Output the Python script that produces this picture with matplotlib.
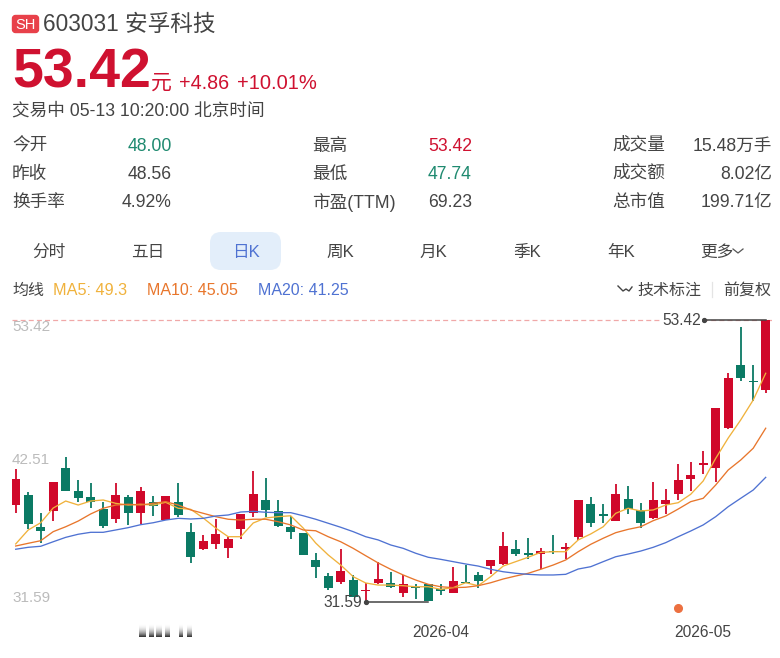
import numpy as np
import matplotlib
matplotlib.use('Agg')
import matplotlib.pyplot as plt
from matplotlib.patches import FancyBboxPatch

plt.rcParams['font.family'] = ['Liberation Sans', 'Noto Sans CJK SC', 'DejaVu Sans']

opens = [39.11,39.89,37.43,38.65,41.95,40.22,39.71,38.80,38.01,39.73,38.47,39.37,37.95,39.37,37.02,
         35.73,36.07,35.76,37.23,38.47,39.52,38.62,37.43,36.97,34.86,33.62,33.18,33.29,32.44,33.06,
         33.06,32.33,32.79,33.00,32.64,32.28,33.16,33.72,34.39,34.57,35.73,35.38,35.32,35.55,35.69,
         36.64,39.19,38.39,37.87,39.55,38.73,38.08,39.21,39.96,41.12,42.18,42.00,45.07,49.96,48.70,48.00]
closes = [41.10,37.64,37.12,40.87,40.22,39.65,39.32,37.51,39.91,38.47,40.17,39.06,39.81,38.34,35.09,
          36.33,36.89,36.46,38.42,39.94,38.73,37.49,37.00,35.22,34.32,32.69,34.03,31.97,32.56,33.37,
          32.75,33.00,32.67,31.71,32.48,33.26,33.06,33.23,34.86,35.92,35.30,35.27,35.55,35.48,35.89,
          39.50,37.74,38.28,39.96,38.78,37.70,39.48,39.48,41.05,41.46,42.38,46.61,48.93,48.91,48.60,53.42]
highs = [41.87,40.14,38.47,40.87,42.80,41.05,40.84,39.32,40.79,39.89,40.48,39.81,39.81,40.84,37.70,
         36.79,38.03,36.66,38.42,41.74,41.18,39.50,38.26,36.97,35.38,33.83,35.69,33.70,33.10,34.73,
         33.91,33.70,33.00,33.00,33.00,34.34,34.47,33.91,34.86,37.05,36.41,36.58,35.81,36.79,36.15,
         39.50,39.75,39.17,40.74,40.58,39.29,40.91,40.33,42.26,42.46,43.31,46.61,49.34,52.90,49.92,53.42]
lows = [38.47,37.23,36.20,37.87,40.22,39.34,38.90,37.33,37.74,37.57,37.64,38.26,37.95,38.16,34.65,
        35.63,35.69,34.99,36.46,38.21,38.21,37.43,36.46,35.22,33.49,32.54,33.00,31.97,31.59,33.00,
        32.67,32.02,31.82,31.71,32.15,32.28,33.06,32.67,33.78,34.47,35.19,34.96,34.14,35.32,34.94,
        36.43,37.43,37.70,37.87,38.42,37.31,38.01,38.42,39.50,40.20,41.49,40.91,44.99,48.73,47.18,47.74]
ma5 = [36.10,37.18,37.74,38.88,39.42,39.11,39.42,39.50,39.24,39.11,39.17,39.11,39.32,38.86,38.78,
       38.11,37.33,36.66,36.66,37.72,38.11,38.21,38.28,37.33,36.17,35.25,34.47,33.57,33.08,32.92,
       32.92,32.87,32.79,32.79,32.59,32.72,33.10,32.87,33.57,34.39,34.73,35.07,35.45,35.50,35.50,
       36.41,36.87,37.43,38.47,38.86,38.65,38.73,39.11,39.29,39.94,40.97,42.72,44.29,45.69,47.23,49.30]
ma10 = [35.94,36.15,36.35,37.05,37.43,37.87,38.42,38.86,39.11,39.17,39.11,39.24,39.37,39.11,38.73,
        38.47,38.21,38.01,37.95,38.01,38.01,37.82,37.57,37.18,37.12,36.66,36.27,35.76,35.19,34.63,
        34.14,33.70,33.31,32.98,32.79,32.72,32.75,32.87,33.10,33.39,33.62,33.83,34.14,34.47,34.86,
        35.50,36.07,36.54,36.97,37.23,37.43,37.90,38.26,38.80,39.37,39.63,40.66,41.82,42.59,43.50,45.05]
ma20 = [35.69,35.84,35.92,36.27,36.61,36.85,37.00,37.00,37.18,37.36,37.59,37.74,37.95,38.08,38.03,
        38.08,38.26,38.34,38.57,38.62,38.55,38.52,38.52,38.28,38.01,37.70,37.39,37.05,36.66,36.41,
        36.02,35.76,35.38,35.07,34.91,34.73,34.55,34.39,34.14,33.95,33.83,33.75,33.70,33.70,33.75,
        34.16,34.34,34.73,35.11,35.32,35.55,35.84,36.20,36.66,37.10,37.57,38.21,38.98,39.63,40.27,41.25]

stats_left = [('今开', '48.00', '#1f8a70'), ('昨收', '48.56', '#444444'), ('换手率', '4.92%', '#444444')]
stats_mid = [('最高', '53.42', '#cf1130'), ('最低', '47.74', '#1f8a70'), ('市盈(TTM)', '69.23', '#444444')]
stats_right = [('成交量', '15.48万手', '#444444'), ('成交额', '8.02亿', '#444444'), ('总市值', '199.71亿', '#444444')]
tabs = ['分时', '五日', '日K', '周K', '月K', '季K', '年K', '更多']
tab_x = [49, 148, 246, 340, 433, 527, 621, 717]

RED = '#d0082a'
GREEN = '#0b7a64'
C5 = '#f0b23c'
C10 = '#e8762c'
C20 = '#4f72d2'

fig = plt.figure(figsize=(7.8, 6.58), dpi=100, facecolor='white')

# chart area, pixel box x 12..772, y 315..610
ax = fig.add_axes([12/780, 1-610/658, 760/780, 295/658])
ax.axis('off')
idx = np.arange(len(opens))
o = np.array(opens)
c = np.array(closes)
cols = [RED if c[i] >= o[i] else GREEN for i in idx]
ax.vlines(idx, lows, highs, colors=cols, lw=1.3, zorder=2)
ax.bar(idx, np.maximum(np.abs(c-o), 0.1), bottom=np.minimum(o, c), width=0.7, color=cols, zorder=3)
ax.plot(idx, ma5, color=C5, lw=0.95, zorder=4)
ax.plot(idx, ma10, color=C10, lw=0.95, zorder=4)
ax.plot(idx, ma20, color=C20, lw=0.95, zorder=4)
ax.axhline(53.42, color='#f0a8a8', lw=0.9, ls=(0, (4, 2.5)), zorder=1)
# max / min markers
ax.plot([55.1, 60], [53.42, 53.42], color='#444444', lw=1.1, zorder=5)
ax.plot([55.1], [53.42], 'o', color='#444444', ms=2.8, zorder=5)
ax.text(54.8, 53.35, '53.42', ha='right', va='center', fontsize=11.2, color='#444444', zorder=6,
        bbox=dict(fc='white', ec='none', pad=1))
ax.plot([28, 33], [31.59, 31.59], color='#444444', lw=1.1, zorder=5)
ax.plot([28], [31.59], 'o', color='#444444', ms=2.8, zorder=5)
ax.text(27.7, 31.55, '31.59', ha='right', va='center', fontsize=11.2, color='#444444', zorder=6)
ax.set_xlim((12-15.7)/12.5, (772-15.7)/12.5)
ax.set_ylim(53.42-290*0.07734, 53.42+5*0.07734)

# everything else in plain pixel coordinates
ui = fig.add_axes([0, 0, 1, 1], zorder=10)
ui.axis('off')
ui.patch.set_alpha(0)


def txt(x, y, s, size=11.5, color='#444444', ha='left', **kw):
    ui.text(x, y + 1.2, s, fontsize=size, color=color, ha=ha, va='center', **kw)


ui.add_patch(FancyBboxPatch((12.5, 15.5), 26, 17, boxstyle='round,pad=0,rounding_size=3', fc='#e8414a', ec='#e8414a', lw=1))
txt(25.5, 24, 'SH', 10.5, 'white', ha='center')
txt(43, 23.5, '603031 安孚科技', 16.3, '#444444')
txt(12, 72, '53.42', 40, '#cf1130', fontweight='bold')
txt(151, 82, '元', 15, '#cf1130')
txt(179, 82, '+4.86', 14.2, '#cf1130')
txt(237, 82, '+10.01%', 14.5, '#cf1130')
txt(12, 110, '交易中 05-13 10:20:00 北京时间', 12.7, '#444444')

for col, x_lab, x_val in ((stats_left, 12, 172), (stats_mid, 312, 472), (stats_right, 612, 772)):
    for row, (lab, val, colr) in zip((145, 173, 201), col):
        txt(x_lab, row, lab, 12.7)
        txt(x_val, row, val, 12.7, colr, ha='right')

ui.add_patch(FancyBboxPatch((210, 232), 71, 38, boxstyle='round,pad=0,rounding_size=11', fc='#e3eefa', ec='none'))
for x, s in zip(tab_x, tabs):
    txt(x, 251, s, 12, '#4f72d2' if s == '日K' else '#444444', ha='center')
ui.plot([733, 738, 743], [249, 253, 249], color='#555555', lw=0.9)

txt(12, 289, '均线', 11.5)
txt(53, 289, 'MA5: 49.3', 11.7, C5)
txt(147, 289, 'MA10: 45.05', 11.5, C10)
txt(258, 289, 'MA20: 41.25', 11.5, C20)
ui.plot([618, 623, 626, 629, 632], [286, 291, 289, 291, 287], color='#444444', lw=1)
txt(637, 289, '技术标注', 11.5)
ui.plot([712, 712], [282, 297], color='#e4e4e4', lw=0.9)
txt(723, 289, '前复权', 11.5)

txt(12, 326, '53.42', 11, '#bbbbbb')
txt(12, 459, '42.51', 11, '#bbbbbb')
txt(12, 597, '31.59', 11, '#bbbbbb')
txt(441, 631, '2026-04', 11.2, '#444444', ha='center')
txt(703, 631, '2026-05', 11.2, '#444444', ha='center')
ui.plot([678], [608], 'o', color='#ec7040', ms=5.5)

# the masked date label under the chart
grad = (1 - np.linspace(0, 1, 30)**2.2 * 0.8).reshape(-1, 1)
for x0, x1 in ((139, 146), (149, 153.5), (156, 162), (165, 170), (179, 183), (187, 191.5)):
    ui.imshow(grad, extent=(x0, x1, 637, 623), cmap='gray', vmin=0, vmax=1, aspect='auto', zorder=2)

ui.set_xlim(0, 780)
ui.set_ylim(658, 0)

plt.savefig('out.png', dpi=100)
